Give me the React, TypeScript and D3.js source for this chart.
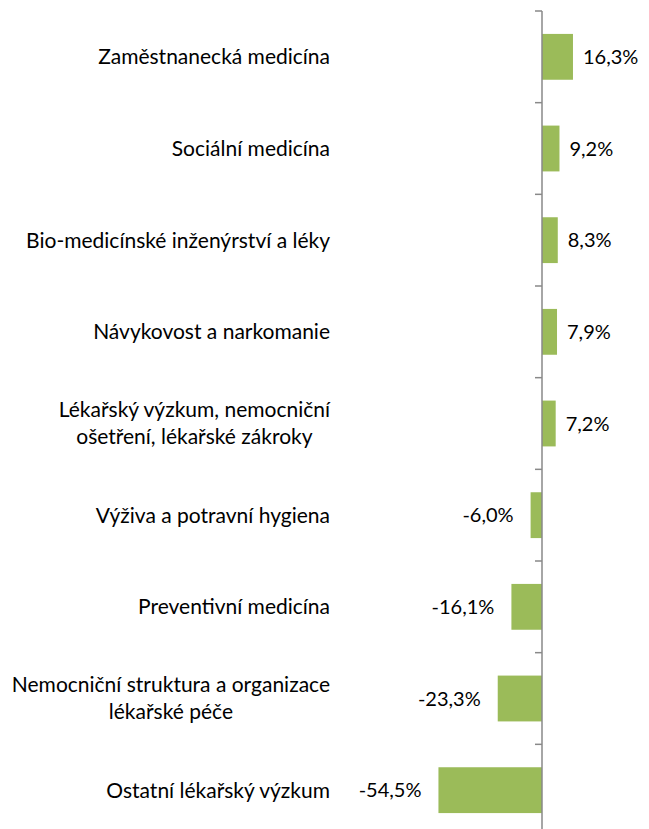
import * as d3 from 'd3';
import React, { useEffect, useRef } from 'react';

const categories = [
  'Zaměstnanecká medicína',
  'Sociální medicína',
  'Bio-medicínské inženýrství a léky',
  'Návykovost a narkomanie',
  'Lékařský výzkum, nemocniční\nošetření, lékařské zákroky',
  'Výživa a potravní hygiena',
  'Preventivní medicína',
  'Nemocniční struktura a organizace\nlékařské péče',
  'Ostatní lékařský výzkum',
];

const values = [16.3, 9.2, 8.3, 7.9, 7.2, -6.0, -16.1, -23.3, -54.5];

const xDomain = [-60, 20];

export default function App() {
  const svgRef = useRef<SVGSVGElement | null>(null);
  const width = 649;
  const height = 829;

  useEffect(() => {
    const svg = d3.select(svgRef.current);
    svg.selectAll('*').remove();

    const data = categories.map((c, i) => ({ name: c, value: values[i] }));
    const font = 'Lato, "Open Sans", sans-serif';

    const x = d3.scaleLinear().domain(xDomain).range([428, 580]);
    const y = d3
      .scaleBand()
      .domain(categories)
      .range([11, 836])
      .paddingInner(0.5)
      .paddingOuter(0.25);

    const x0 = x(0);

    // bars
    svg
      .selectAll('.bar')
      .data(data)
      .enter()
      .append('rect')
      .attr('class', 'bar')
      .attr('x', (d) => Math.min(x(d.value), x0))
      .attr('y', (d) => y(d.name))
      .attr('width', (d) => Math.abs(x(d.value) - x0))
      .attr('height', y.bandwidth())
      .attr('fill', '#9BBB59');

    // axis line + ticks at category boundaries
    const step = y.step();
    const start = y.range()[0];
    svg
      .append('line')
      .attr('x1', x0)
      .attr('x2', x0)
      .attr('y1', start)
      .attr('y2', height + 10)
      .attr('stroke', '#898989')
      .attr('stroke-width', 1.5);

    svg
      .selectAll('.tick')
      .data(d3.range(categories.length + 1))
      .enter()
      .append('line')
      .attr('class', 'tick')
      .attr('x1', x0 - 7)
      .attr('x2', x0)
      .attr('y1', (i) => start + i * step)
      .attr('y2', (i) => start + i * step)
      .attr('stroke', '#898989')
      .attr('stroke-width', 1.5);

    // category labels, right aligned block, lines centered to each other
    const labelRight = 330;
    const lineH = 27;
    data.forEach((d) => {
      const lines = d.name.split('\n');
      const cy = y(d.name) + y.bandwidth() / 2;
      const t = svg
        .append('text')
        .attr('font-family', font)
        .attr('font-size', 21)
        .attr('fill', '#000')
        .attr('text-anchor', 'middle');
      const spans = lines.map((l, i) =>
        t
          .append('tspan')
          .attr('y', cy + (i - (lines.length - 1) / 2) * lineH)
          .attr('dy', '0.35em')
          .text(l)
      );
      const w = d3.max(spans, (s) => (s.node() as SVGTSpanElement).getComputedTextLength()) || 0;
      spans.forEach((s) => s.attr('x', labelRight - w / 2));
    });

    // value labels
    svg
      .selectAll('.bar-label')
      .data(data)
      .enter()
      .append('text')
      .attr('class', 'bar-label')
      .attr('x', (d) => (d.value >= 0 ? x(d.value) + 10 : x(d.value) - 17))
      .attr('y', (d) => y(d.name) + y.bandwidth() / 2)
      .attr('dy', '0.35em')
      .attr('text-anchor', (d) => (d.value >= 0 ? 'start' : 'end'))
      .attr('font-family', font)
      .attr('font-size', 20)
      .attr('fill', '#000')
      .text((d) => d3.format('.1f')(d.value).replace('.', ',').replace('−', '-') + '%');
  }, []);

  return (
    <svg
      ref={svgRef}
      width={width}
      height={height}
      style={{ position: 'absolute', left: 0, top: 0, background: '#fff' }}
    />
  );
}
